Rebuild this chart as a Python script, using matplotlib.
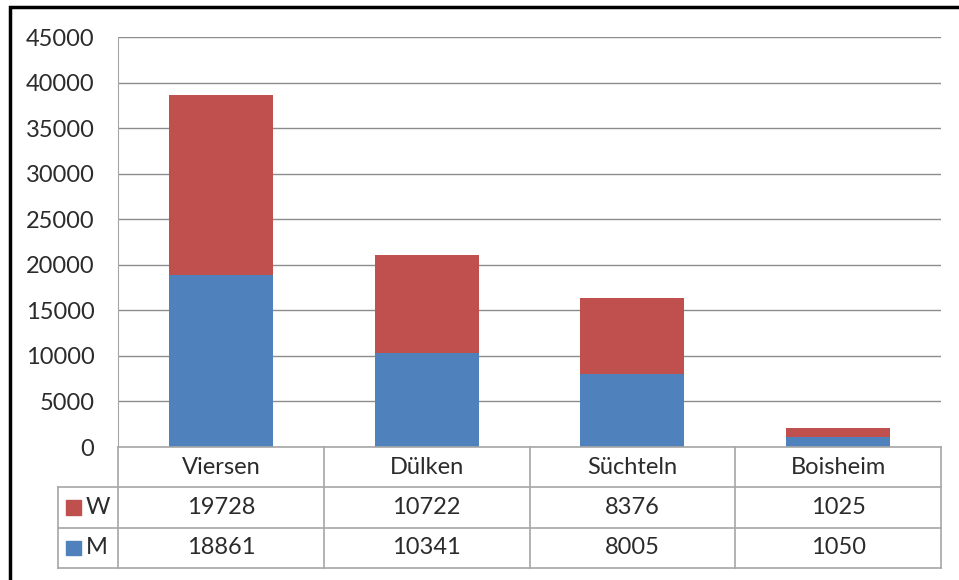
import matplotlib
matplotlib.use("Agg")
import matplotlib.pyplot as plt
from matplotlib.patches import Rectangle

# ---- data ----
towns = ["Viersen", "Dülken", "Süchteln", "Boisheim"]
series = ["W", "M"]
women = [19728, 10722, 8376, 1025]
men = [18861, 10341, 8005, 1050]
yticks = [0, 5000, 10000, 15000, 20000, 25000, 30000, 35000, 40000, 45000]

RED = "#C0504D"
BLUE = "#4F81BD"
TXT = "#2B2B2B"
GRID = "#8C8C8C"
TLINE = "#A6A6A6"
FS = 17

plt.rcParams["font.family"] = ["Lato", "DejaVu Sans"]

W, H = 959, 580
fig = plt.figure(figsize=(W / 100, H / 100), dpi=100)

def rect(x0, y0, x1, y1):
    # pixel box (top-left origin) -> figure fractions
    return [x0 / W, 1 - y1 / H, (x1 - x0) / W, (y1 - y0) / H]

px_left, px_right, px_top, px_zero = 118, 941, 37, 447
ax = fig.add_axes(rect(px_left, px_top, px_right, px_zero))

x = list(range(len(towns)))
ax.bar(x, men, width=0.505, color=BLUE, zorder=3)
ax.bar(x, women, width=0.505, bottom=men, color=RED, zorder=3)

ax.set_xlim(-0.5, len(towns) - 0.5)
ax.set_ylim(0, 45000)
ax.set_yticks(yticks)
ax.set_yticklabels([str(v) for v in yticks], fontsize=FS, color=TXT)
ax.tick_params(axis="y", length=0, pad=17)
ax.set_xticks([])
ax.grid(axis="y", color=GRID, lw=1, zorder=0)
for s in ["top", "right", "bottom"]:
    ax.spines[s].set_visible(False)
ax.spines["left"].set_color(TLINE)

# ---- data table below the plot ----
row_lbl = 60
unit = (px_right - px_left) / len(towns)
tax = fig.add_axes(rect(px_left - row_lbl, px_zero, px_right, 568))
tax.set_xlim(-0.5 - row_lbl / unit, len(towns) - 0.5)
tax.set_ylim(3, 0)
tax.axis("off")
x_lbl = -0.5 - row_lbl / unit
kw = dict(color=TLINE, lw=1.2, clip_on=False)

# horizontal lines
tax.plot([-0.5, len(towns) - 0.5], [0, 0], **kw)
for r in [1, 2, 3]:
    tax.plot([x_lbl, len(towns) - 0.5], [r, r], **kw)
# vertical lines
tax.plot([x_lbl, x_lbl], [1, 3], **kw)
for i in range(len(towns) + 1):
    tax.plot([i - 0.5, i - 0.5], [0, 3], **kw)

for i, t in enumerate(towns):
    tax.text(i, 0.5, t, ha="center", va="center", fontsize=FS, color=TXT)
    tax.text(i, 1.5, str(women[i]), ha="center", va="center", fontsize=FS, color=TXT)
    tax.text(i, 2.5, str(men[i]), ha="center", va="center", fontsize=FS, color=TXT)

for r, (name, col) in enumerate(zip(series, [RED, BLUE])):
    key_w = 15 / unit
    tax.add_patch(Rectangle((x_lbl + 8 / unit, 1.5 + r - 0.18), key_w, 0.36,
                            color=col, clip_on=False))
    tax.text(x_lbl + 28 / unit, 1.5 + r, name, ha="left", va="center",
             fontsize=FS, color=TXT)

# ---- outer border (only top/left visible in reference) ----
fig.add_artist(Rectangle((10 / W, -0.1), 1.2, 1 - 7 / H + 0.1,
                         transform=fig.transFigure, fill=False,
                         lw=2.5, color="black"))

fig.savefig("out.png", dpi=100)
